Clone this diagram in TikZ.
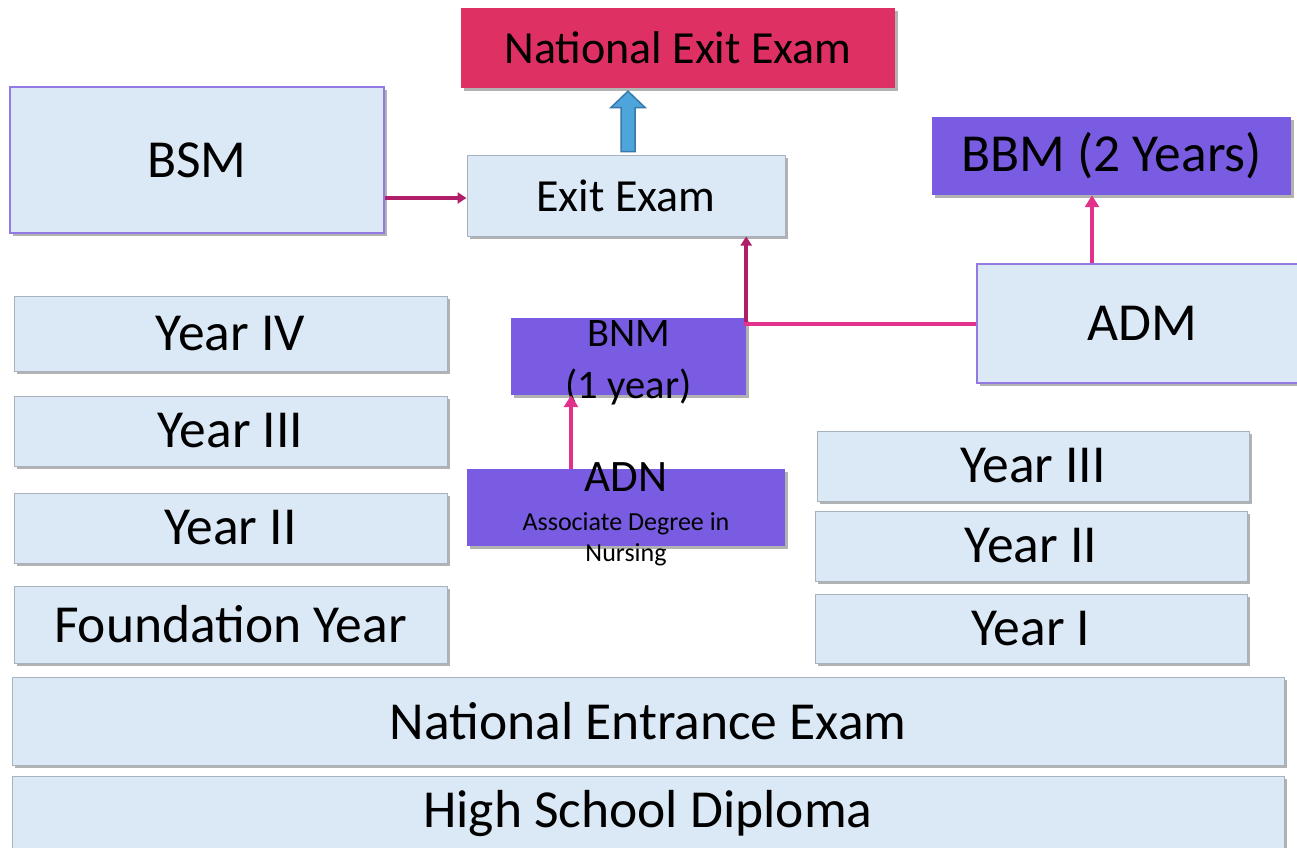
\documentclass[tikz,border=0pt]{standalone}
\usepackage{fontspec}
\setmainfont{Carlito}
\usetikzlibrary{calc,shadows,arrows.meta}
\definecolor{lblue}{RGB}{219,233,246}
\definecolor{gborder}{RGB}{168,178,190}
\definecolor{pborder}{RGB}{146,122,226}
\definecolor{purp}{RGB}{122,92,226}
\definecolor{crim}{RGB}{222,48,98}
\definecolor{ablue}{RGB}{78,165,220}
\definecolor{ablueb}{RGB}{56,120,170}
\definecolor{dmag}{RGB}{176,30,106}
\definecolor{pmag}{RGB}{226,49,138}
\tikzset{
  base/.style={rectangle, inner sep=0pt, align=center, text=black,
    drop shadow={shadow xshift=3pt, shadow yshift=-3pt, fill=black, opacity=0.3}},
  lbox/.style={base, fill=lblue, draw=gborder, line width=1pt},
  lpbox/.style={base, fill=lblue, draw=pborder, line width=2pt},
  pbox/.style={base, fill=purp, draw=none},
  cbox/.style={base, fill=crim, draw=none},
  dlink/.style={draw=dmag, line width=4pt, -{Triangle[length=9pt,width=11pt]}},
  plink/.style={draw=pmag, line width=4pt, -{Triangle[length=12pt,width=14pt]}},
  pline/.style={draw=pmag, line width=4pt},
  big/.style={font=\fontsize{53.5}{60}\selectfont},
  mid/.style={font=\fontsize{46}{52}\selectfont},
}
\begin{document}
\begin{tikzpicture}[x=1pt,y=-1pt]
\useasboundingbox[fill=white] (0,0) rectangle (1297,847);

\node[cbox, mid, minimum width=434, minimum height=80] (nee) at (678,48) {National Exit Exam};
\node[lpbox, big, minimum width=374, minimum height=146] (bsm) at (197,160) {BSM};
\node[lbox, mid, minimum width=318, minimum height=81] (exit) at (626,195.5) {Exit Exam};
\node[pbox, big, minimum width=359, minimum height=78] (bbm) at (1111.5,156) {BBM (2 Years)};
\node[lpbox, big, minimum width=330, minimum height=119] (adm) at (1142,323.5) {ADM};

\node[lbox, big, minimum width=433, minimum height=75] (y4l) at (230.5,333.5) {Year IV};
\node[lbox, big, minimum width=433, minimum height=70] (y3l) at (230.5,431) {Year III};
\node[lbox, big, minimum width=433, minimum height=70] (y2l) at (230.5,528) {Year II};
\node[lbox, big, minimum width=433, minimum height=77] (fy) at (230.5,624.5) {Foundation Year};

\node[pbox, minimum width=235, minimum height=77,
  label={[inner sep=0pt, align=center, yshift=-6pt, font=\fontsize{40.5}{52}\selectfont]center:BNM\\(1 year)}] (bnm) at (628.5,356.5) {};
\node[pbox, minimum width=318, minimum height=77,
  label={[inner sep=0pt, align=center, yshift=-7pt, font=\fontsize{26}{31}\selectfont]center:{\fontsize{45}{50}\selectfont ADN}\\[8pt]Associate Degree in\\Nursing}] (adn) at (626,507.5) {};

\node[lbox, big, minimum width=432, minimum height=70] (y3r) at (1033,466) {Year III};
\node[lbox, big, minimum width=432, minimum height=70] (y2r) at (1031,546) {Year II};
\node[lbox, big, minimum width=432, minimum height=69] (y1r) at (1031,628.5) {Year I};

\node[lbox, big, minimum width=1272, minimum height=88] (nen) at (648,721) {National Entrance Exam};
\node[lbox, big, minimum width=1272, minimum height=76] (hsd) at (648,814) {High School Diploma};

% blue block arrow
\coordinate (tip) at (exit.north |- nee.south);
\draw[draw=ablueb, fill=ablue, line width=1.5pt]
  ($(exit.north)+(-5,-3)$) -- ($(exit.north)+(-5,-47)$) -- ($(exit.north)+(-15,-47)$)
  -- ($(tip)+(2,3)$) -- ($(exit.north)+(19,-47)$) -- ($(exit.north)+(9,-47)$)
  -- ($(exit.north)+(9,-3)$) -- cycle;

% connectors
\draw[dlink] ([yshift=-2.5pt]exit.west -| bsm.east) -- ([yshift=-2.5pt]exit.west);
\coordinate (corner) at (bnm.north east |- adm.west);
\draw[pline] (adm.west) -- ([xshift=-2pt]corner);
\draw[dlink] ([yshift=2pt]corner) -- (corner |- exit.south);
\coordinate (adnp) at ($(adn.north)+(-55,0)$);
\draw[plink] (adnp) -- (adnp |- bnm.south);
\coordinate (admp) at ($(adm.north)+(-50,0)$);
\draw[plink] (admp) -- (admp |- bbm.south);
\end{tikzpicture}
\end{document}
